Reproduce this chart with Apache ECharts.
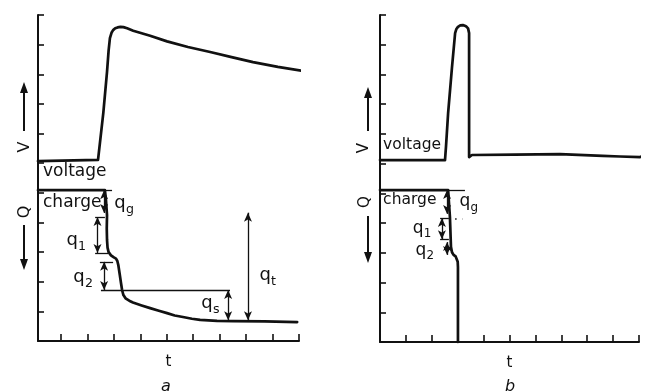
<!DOCTYPE html>
<html><head><meta charset="utf-8">
<script src="https://cdn.jsdelivr.net/npm/echarts@6/dist/echarts.min.js"></script>
<style>html,body{margin:0;padding:0;background:#fff}#c{width:651px;height:392px}</style>
</head><body><div id="c"></div>
<script>
// ---------- DATA (x: time units, y: trace units 0..11) ----------
const xTicks = [1,2,3,4,5,6,7,8,9,10];

// Panel a
const voltageA = [[0.13,6.07],[2.40,6.11],[2.44,6.14],[2.60,7.70],[2.74,9.08],[2.80,9.80],[2.85,10.22],[2.91,10.40],[2.97,10.49],[3.05,10.55],[3.14,10.58],[3.25,10.60],[3.36,10.59],[3.50,10.55],[3.73,10.47],[4.37,10.30],[5.01,10.11],[5.80,9.92],[6.64,9.75],[7.45,9.58],[8.26,9.41],[9.20,9.25],[10.15,9.11]];
const chargeA = [[0.13,5.09],[2.66,5.09],[2.70,4.76],[2.74,4.25],[2.73,3.80],[2.74,3.41],[2.76,3.15],[2.80,3.00],[2.89,2.89],[3.00,2.82],[3.08,2.78],[3.13,2.70],[3.17,2.55],[3.22,2.25],[3.27,1.95],[3.31,1.72],[3.36,1.55],[3.44,1.44],[3.58,1.36],[3.72,1.30],[4.05,1.20],[4.37,1.11],[4.70,1.02],[5.01,0.94],[5.30,0.86],[5.61,0.81],[5.95,0.75],[6.26,0.71],[6.90,0.68],[7.51,0.67],[8.70,0.66],[9.93,0.64]];
// double-headed arrows [x, yFrom, yTo]
const arrowsA = [[2.63,5.09,4.32],[2.38,4.18,2.97],[2.63,2.67,1.72],[7.32,1.72,0.70],[8.07,4.33,0.70]];
// plain reference segments [x1,y1,x2,y2]
const refLinesA = [[2.66,5.09,2.93,5.09],[2.29,4.18,2.66,4.18],[2.29,2.97,2.78,2.97],[2.47,2.67,2.97,2.67],[2.51,1.72,7.39,1.72]];
const dottedA = [[2.78,4.18,10.04,4.39]];
const textA = [['voltage',0.32,5.70],['charge',0.32,4.66]];
const qLabelsA = [['g',3.23,4.66],['1',1.42,3.41],['2',1.68,2.16],['s',6.52,1.28],['t',8.72,2.23]];

// Panel b
const voltageB = [[0,6.12],[2.51,6.12],[2.55,6.60],[2.63,7.70],[2.78,9.25],[2.90,10.39],[2.95,10.53],[3.01,10.60],[3.10,10.65],[3.20,10.66],[3.32,10.62],[3.40,10.55],[3.44,10.39],[3.44,6.22],[3.48,6.27],[3.55,6.29],[5.20,6.30],[6.95,6.32],[8.60,6.26],[9.27,6.24],[10.04,6.22],[10.27,6.29]];
const chargeB = [[0,5.11],[2.63,5.11],[2.70,4.20],[2.74,3.20],[2.78,3.02],[2.84,2.93],[2.92,2.88],[2.97,2.83],[3.00,2.70],[3.01,2.52],[3.01,0]];
const arrowsB = [[2.59,5.11,4.31],[2.39,4.17,3.46],[2.59,3.36,2.93]];
const refLinesB = [[2.63,5.11,3.28,5.11],[2.32,4.17,2.66,4.17],[2.32,3.46,2.66,3.46]];
const dottedB = [[2.90,4.14,3.20,4.14]];
const textB = [['voltage',0.12,6.63],['charge',0.12,4.78]];
const qLabelsB = [['g',3.28,4.71],['1',1.47,3.83],['2',1.58,3.09]];

// ---------- CHART ----------
const FONT = 'DejaVu Sans';
const INK = '#111';
const chart = echarts.init(document.getElementById('c'), null, {renderer:'canvas'});

function xAxisCfg(gi, min, max) {
  return {type:'value', gridIndex:gi, min:min, max:max,
    axisLine:{show:true, onZero:false, lineStyle:{color:INK, width:2}},
    axisTick:{show:true, inside:true, length:7, customValues:xTicks, lineStyle:{color:INK, width:1.6}},
    axisLabel:{show:false}, splitLine:{show:false},
    name:'t', nameLocation:'middle', nameGap:14,
    nameTextStyle:{color:INK, fontFamily:FONT, fontSize:15, verticalAlign:'top'}};
}
function yAxisCfg(gi) {
  return {type:'value', gridIndex:gi, min:0, max:11, interval:1,
    axisLine:{show:true, onZero:false, lineStyle:{color:INK, width:2}},
    axisTick:{show:true, inside:true, length:6, lineStyle:{color:INK, width:1.6}},
    axisLabel:{show:false}, splitLine:{show:false}};
}
function markLines(arrows, refs, dotted) {
  const d = [];
  arrows.forEach(a => d.push([{coord:[a[0],a[1]], symbol:'arrow'},{coord:[a[0],a[2]], symbol:'arrow'}]));
  refs.forEach(r => d.push([{coord:[r[0],r[1]], symbol:'none'},{coord:[r[2],r[3]], symbol:'none'}]));
  dotted.forEach(r => d.push([{coord:[r[0],r[1]], symbol:'none', lineStyle:{type:[1.5,6], width:1.6, color:INK}},{coord:[r[2],r[3]], symbol:'none'}]));
  return {silent:true, animation:false, symbolSize:[6,9], label:{show:false},
    lineStyle:{color:INK, width:1.3, type:'solid'}, emphasis:{disabled:true}, data:d};
}
function curve(data, gi, ml) {
  const s = {type:'line', xAxisIndex:gi, yAxisIndex:gi, data:data, showSymbol:false, symbol:'none',
    clip:false, lineStyle:{color:INK, width:2.7, join:'round', cap:'round'}, smooth:false, silent:true};
  if (ml) s.markLine = ml;
  return s;
}

chart.setOption({
  animation:false,
  backgroundColor:'#fff',
  grid:[{left:38, top:15, width:261, height:326},{left:380, top:15, width:259, height:327}],
  xAxis:[xAxisCfg(0,0.13,10), xAxisCfg(1,0,10)],
  yAxis:[yAxisCfg(0), yAxisCfg(1)],
  series:[
    curve(voltageA,0),
    curve(chargeA,0,markLines(arrowsA,refLinesA,dottedA)),
    curve(voltageB,1),
    curve(chargeB,1,markLines(arrowsB,refLinesB,dottedB))
  ]
});

// ---------- TEXT & AXIS-ARROW GRAPHICS ----------
function txt(x, y, s, size, extra) {
  return Object.assign({type:'text', x:x, y:y, silent:true,
    style:Object.assign({text:s, fontFamily:FONT, fontSize:size, fill:INK,
      textAlign:'left', textVerticalAlign:'middle', align:'left', verticalAlign:'middle'}, (extra&&extra.style)||{})},
    extra && extra.rotation !== undefined ? {rotation:extra.rotation} : {});
}
function centered(x, y, s, size, more) {
  return txt(x, y, s, size, {style:Object.assign({textAlign:'center', align:'center'}, more||{})});
}
function vArrow(x, y1, y2) {
  const dir = y2 < y1 ? -1 : 1;
  return [
    {type:'line', silent:true, shape:{x1:x, y1:y1, x2:x, y2:y2 - dir*8}, style:{stroke:INK, lineWidth:2}},
    {type:'polygon', silent:true, shape:{points:[[x-4, y2 - dir*11],[x+4, y2 - dir*11],[x, y2]]}, style:{fill:INK}}
  ];
}
const g = [];
function panelText(gi, texts, qLabels, tSize, qSize) {
  texts.forEach(t => { const p = chart.convertToPixel({gridIndex:gi}, [t[1],t[2]]); g.push(txt(p[0], p[1], t[0], tSize)); });
  qLabels.forEach(q => {
    const p = chart.convertToPixel({gridIndex:gi}, [q[1],q[2]]);
    g.push(centered(p[0], p[1], 'q', qSize));
    g.push(txt(p[0] + qSize*0.33, p[1] + qSize*0.36, q[0], qSize*0.7));
  });
}
panelText(0, textA, qLabelsA, 17, 18);
panelText(1, textB, qLabelsB, 15.5, 17);

// y-axis quantity marks (outside plot areas)
g.push(txt(25, 147, 'V', 16, {style:{textAlign:'center', align:'center'}, rotation:Math.PI/2}));
g.push(txt(25, 212, 'Q', 16, {style:{textAlign:'center', align:'center'}, rotation:Math.PI/2}));
g.push(...vArrow(24, 131, 82));
g.push(...vArrow(24, 225, 270));
g.push(txt(364, 148, 'V', 15, {style:{textAlign:'center', align:'center'}, rotation:Math.PI/2}));
g.push(txt(365, 202, 'Q', 15, {style:{textAlign:'center', align:'center'}, rotation:Math.PI/2}));
g.push(...vArrow(368, 131, 87));
g.push(...vArrow(368, 216, 263));
// panel letters
g.push(centered(166, 387, 'a', 16, {fontStyle:'italic'}));
g.push(centered(510, 387, 'b', 16, {fontStyle:'italic'}));

chart.setOption({graphic:{elements:g}});
</script></body></html>
